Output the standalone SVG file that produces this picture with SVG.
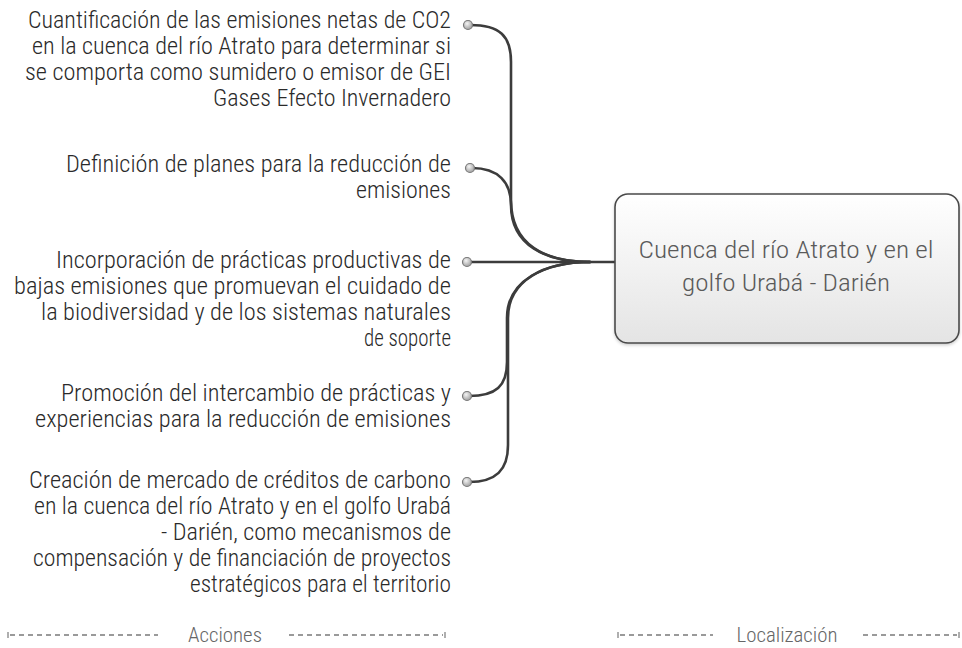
<svg xmlns="http://www.w3.org/2000/svg" width="962" height="648" viewBox="0 0 962 648">
<style>
.t{font-family:"Roboto Condensed","Liberation Sans Narrow","Liberation Sans",Arial,sans-serif;font-weight:300;font-size:24px;fill:#2a2a2a;text-anchor:end}
.c{font-family:"Roboto Condensed","Liberation Sans Narrow","Liberation Sans",Arial,sans-serif;font-weight:300;font-size:24px;fill:#5a5a5a;text-anchor:middle}
.f{font-family:"Roboto Condensed","Liberation Sans Narrow","Liberation Sans",Arial,sans-serif;font-weight:300;font-size:21px;fill:#666;text-anchor:middle}
.ln{fill:none;stroke:#3c3c3c;stroke-width:2.6;stroke-linecap:round}
.dot{fill:url(#dg);stroke:#7a7a7a;stroke-width:1.2}
.d{stroke:#7a7a7a;stroke-width:1.6;stroke-dasharray:5 4;fill:none}
.tk{stroke:#7a7a7a;stroke-width:1.2}
</style>
<defs>
<radialGradient id="dg" cx="0.4" cy="0.35" r="0.7">
<stop offset="0" stop-color="#f4f4f4"/>
<stop offset="1" stop-color="#9a9a9a"/>
</radialGradient>
<linearGradient id="bg" x1="0" y1="0" x2="0" y2="1">
<stop offset="0" stop-color="#ffffff"/>
<stop offset="1" stop-color="#e4e4e4"/>
</linearGradient>
<filter id="sh" x="-10%" y="-10%" width="120%" height="130%">
<feDropShadow dx="0" dy="1.5" stdDeviation="1.5" flood-color="#000" flood-opacity="0.2"/>
</filter>
</defs>

<g id="connectors">
<path class="ln" d="M470,25 C500,25 511,36 511,62 V200 C511,245 545,262 590,262"/>
<path class="ln" d="M472,168 C498,168 511,182 511,205 C511,245 545,262 590,262"/>
<path class="ln" d="M470,262 H615"/>
<path class="ln" d="M469,396 C496,396 507,386 507,362 V318 C507,280 545,262 590,262"/>
<path class="ln" d="M469,482 C496,482 508,470 508,445 V318 C508,280 545,262 590,262"/>
</g>

<g id="center">
<rect x="615" y="194" width="344" height="149" rx="13" fill="url(#bg)" stroke="#4a4a4a" stroke-width="1.6" filter="url(#sh)"/>
<text class="c" x="786" y="258" textLength="295" lengthAdjust="spacingAndGlyphs">Cuenca del río Atrato y en el</text>
<text class="c" x="786" y="291" textLength="208" lengthAdjust="spacingAndGlyphs">golfo Urabá - Darién</text>
</g>

<g id="n1">
<text class="t" x="451" y="28" textLength="423" lengthAdjust="spacingAndGlyphs">Cuantificación de las emisiones netas de CO2</text>
<text class="t" x="451" y="54" textLength="419" lengthAdjust="spacingAndGlyphs">en la cuenca del río Atrato para determinar si</text>
<text class="t" x="451" y="80" textLength="426" lengthAdjust="spacingAndGlyphs">se comporta como sumidero o emisor de GEI</text>
<text class="t" x="451" y="106" textLength="238" lengthAdjust="spacingAndGlyphs">Gases Efecto Invernadero</text>
<circle class="dot" cx="468" cy="25" r="4.5"/>
</g>

<g id="n2">
<text class="t" x="451" y="172" textLength="385" lengthAdjust="spacingAndGlyphs">Definición de planes para la reducción de</text>
<text class="t" x="451" y="198" textLength="95" lengthAdjust="spacingAndGlyphs">emisiones</text>
<circle class="dot" cx="470" cy="168" r="4.5"/>
</g>

<g id="n3">
<text class="t" x="451" y="268" textLength="395" lengthAdjust="spacingAndGlyphs">Incorporación de prácticas productivas de</text>
<text class="t" x="451" y="294" textLength="437" lengthAdjust="spacingAndGlyphs">bajas emisiones que promuevan el cuidado de</text>
<text class="t" x="451" y="320" textLength="410" lengthAdjust="spacingAndGlyphs">la biodiversidad y de los sistemas naturales</text>
<text class="t" x="451" y="346" textLength="87" lengthAdjust="spacingAndGlyphs">de soporte</text>
<circle class="dot" cx="467" cy="262" r="4.5"/>
</g>

<g id="n4">
<text class="t" x="451" y="401" textLength="390" lengthAdjust="spacingAndGlyphs">Promoción del intercambio de prácticas y</text>
<text class="t" x="451" y="427" textLength="416" lengthAdjust="spacingAndGlyphs">experiencias para la reducción de emisiones</text>
<circle class="dot" cx="467" cy="396" r="4.5"/>
</g>

<g id="n5">
<text class="t" x="451" y="488" textLength="422" lengthAdjust="spacingAndGlyphs">Creación de mercado de créditos de carbono</text>
<text class="t" x="451" y="514" textLength="417" lengthAdjust="spacingAndGlyphs">en la cuenca del río Atrato y en el golfo Urabá</text>
<text class="t" x="451" y="540" textLength="290" lengthAdjust="spacingAndGlyphs">- Darién, como mecanismos de</text>
<text class="t" x="451" y="566" textLength="418" lengthAdjust="spacingAndGlyphs">compensación y de financiación de proyectos</text>
<text class="t" x="451" y="592" textLength="261" lengthAdjust="spacingAndGlyphs">estratégicos para el territorio</text>
<circle class="dot" cx="467" cy="482" r="4.5"/>
</g>

<g id="footer-acciones">
<line class="tk" x1="8" y1="632" x2="8" y2="638"/>
<path class="d" d="M10,635 H158"/>
<text class="f" x="225" y="642" textLength="74" lengthAdjust="spacingAndGlyphs">Acciones</text>
<path class="d" d="M289,635 H443"/>
<line class="tk" x1="445" y1="632" x2="445" y2="638"/>
</g>

<g id="footer-localizacion">
<line class="tk" x1="618" y1="632" x2="618" y2="638"/>
<path class="d" d="M620,635 H713"/>
<text class="f" x="787" y="642" textLength="101" lengthAdjust="spacingAndGlyphs">Localización</text>
<path class="d" d="M863,635 H957"/>
<line class="tk" x1="959" y1="632" x2="959" y2="638"/>
</g>
</svg>
